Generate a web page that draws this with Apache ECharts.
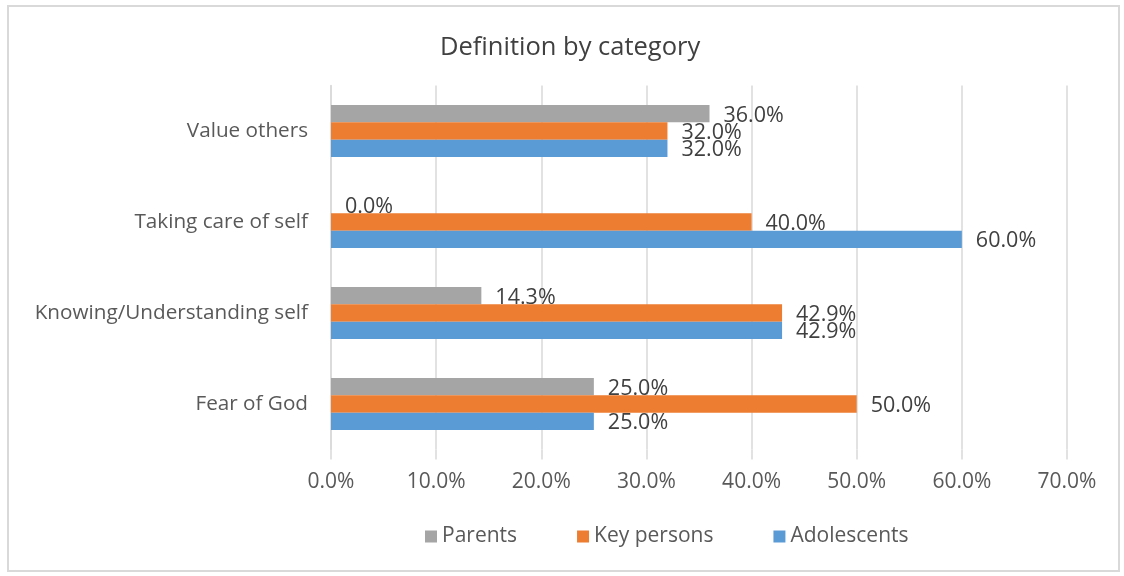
<!DOCTYPE html>
<html>
<head>
<meta charset="utf-8">
<style>
  html, body { margin: 0; padding: 0; background: #fff; }
  #frame { position: absolute; left: 7px; top: 5px; width: 1113px; height: 567px; border: 2px solid #d9d9d9; box-sizing: border-box; }
  #chart { position: absolute; left: 0; top: 0; width: 1124px; height: 576px; }
</style>
<script src="https://cdn.jsdelivr.net/npm/echarts@6/dist/echarts.min.js"></script>
</head>
<body>
<div id="frame"></div>
<div id="chart"></div>
<script>
// Categories listed from the bottom of the axis upward
const categories = ['Fear of God', 'Knowing/Understanding self', 'Taking care of self', 'Value others'];
// Percentages per group
const parents     = [25.0, 14.3, 0.0, 36.0];
const keyPersons  = [50.0, 42.9, 40.0, 32.0];
const adolescents = [25.0, 42.9, 60.0, 32.0];

const FONT = '"Open Sans"';
const pct = v => Number(v).toFixed(1) + '%';

function barSeries(name, data, color) {
  return {
    name: name,
    type: 'bar',
    data: data,
    barWidth: 17.3,
    barGap: '0%',
    itemStyle: { color: color },
    label: {
      show: true,
      position: 'right',
      distance: 14,
      offset: [0, 2],
      formatter: p => pct(p.value),
      color: '#404040',
      fontFamily: FONT,
      fontSize: 21.5
    }
  };
}

const chart = echarts.init(document.getElementById('chart'), null, { renderer: 'canvas' });
chart.setOption({
  animation: false,
  backgroundColor: 'transparent',
  title: {
    text: 'Definition by category',
    left: 435,
    top: 30,
    textStyle: { fontFamily: FONT, fontSize: 25.5, fontWeight: 'normal', color: '#404040' }
  },
  legend: {
    top: 521,
    left: 420,
    itemWidth: 12,
    itemHeight: 12,
    itemGap: 60,
    icon: 'rect',
    textStyle: { fontFamily: FONT, fontSize: 21, color: '#595959' }
  },
  grid: { left: 331, right: 57, top: 85.5, bottom: 126.5, containLabel: false },
  xAxis: {
    type: 'value',
    min: 0,
    max: 70,
    interval: 10,
    axisLine: { show: false },
    axisTick: { show: true, length: 10, lineStyle: { color: '#d9d9d9', width: 1.5 } },
    splitLine: { show: true, lineStyle: { color: '#d9d9d9', width: 1.5 } },
    axisLabel: { formatter: v => pct(v), margin: 22, color: '#595959', fontFamily: FONT, fontSize: 21 }
  },
  yAxis: {
    type: 'category',
    data: categories,
    axisLine: { show: true, lineStyle: { color: '#d9d9d9', width: 1.5 } },
    axisTick: { show: false },
    axisLabel: { margin: 23, color: '#595959', fontFamily: FONT, fontSize: 20.7 }
  },
  // first series sits at the top of each category band
  series: [
    barSeries('Parents', parents, '#a5a5a5'),
    barSeries('Key persons', keyPersons, '#ed7d31'),
    barSeries('Adolescents', adolescents, '#5b9bd5')
  ]
});
</script>
</body>
</html>
